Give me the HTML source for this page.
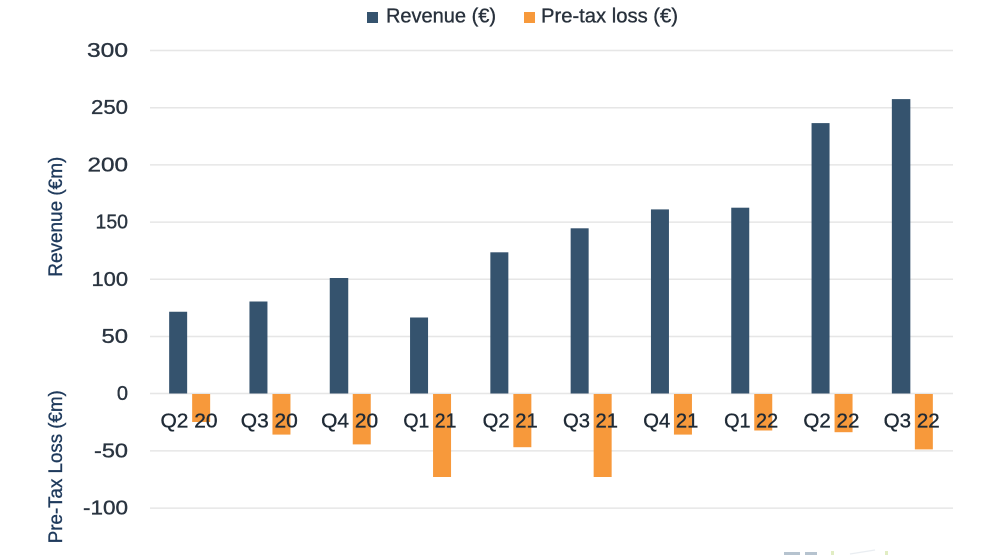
<!DOCTYPE html>
<html>
<head>
<meta charset="utf-8">
<style>
html,body{margin:0;padding:0;background:#fff;}
svg{display:block;}
text{font-family:"Liberation Sans",sans-serif;}
</style>
</head>
<body>
<svg width="1000" height="555" viewBox="0 0 1000 555" xmlns="http://www.w3.org/2000/svg">
  <rect width="1000" height="555" fill="#ffffff"/>
  <!-- legend -->
  <rect x="367" y="12" width="11" height="11" fill="#35536e"/>
  <text x="386" y="22.5" font-size="20" fill="#28313c" stroke="#28313c" stroke-width="0.35" textLength="110" lengthAdjust="spacingAndGlyphs">Revenue (€)</text>
  <rect x="524" y="12" width="11" height="11" fill="#f7993b"/>
  <text x="541" y="22.5" font-size="20" fill="#28313c" stroke="#28313c" stroke-width="0.35" textLength="137" lengthAdjust="spacingAndGlyphs">Pre-tax loss (€)</text>

  <!-- gridlines -->
  <g stroke="#e6e6e6" stroke-width="1.5">
    <line x1="150" x2="953" y1="50.5" y2="50.5"/>
    <line x1="150" x2="953" y1="107.7" y2="107.7"/>
    <line x1="150" x2="953" y1="164.9" y2="164.9"/>
    <line x1="150" x2="953" y1="222.1" y2="222.1"/>
    <line x1="150" x2="953" y1="279.3" y2="279.3"/>
    <line x1="150" x2="953" y1="336.5" y2="336.5"/>
    <line x1="150" x2="953" y1="393.5" y2="393.5"/>
    <line x1="150" x2="953" y1="450.9" y2="450.9"/>
    <line x1="150" x2="953" y1="508.1" y2="508.1"/>
  </g>

  <!-- y tick labels -->
  <g font-size="20" fill="#2a3440" stroke="#2a3440" stroke-width="0.35" text-anchor="end">
    <text x="128" y="57" textLength="41" lengthAdjust="spacingAndGlyphs">300</text>
    <text x="128" y="114.2" textLength="37" lengthAdjust="spacingAndGlyphs">250</text>
    <text x="128" y="171.4" textLength="40.5" lengthAdjust="spacingAndGlyphs">200</text>
    <text x="128" y="228.6" textLength="32.5" lengthAdjust="spacingAndGlyphs">150</text>
    <text x="128" y="285.8" textLength="36.5" lengthAdjust="spacingAndGlyphs">100</text>
    <text x="128" y="343" textLength="26.5" lengthAdjust="spacingAndGlyphs">50</text>
    <text x="128" y="400">0</text>
    <text x="128" y="457.4" textLength="34" lengthAdjust="spacingAndGlyphs">-50</text>
    <text x="128" y="514.6" textLength="45" lengthAdjust="spacingAndGlyphs">-100</text>
  </g>

  <!-- axis titles -->
  <text transform="translate(62,216.7) rotate(-90)" font-size="19" fill="#1f3a5c" stroke="#1f3a5c" stroke-width="0.35" text-anchor="middle" textLength="120" lengthAdjust="spacingAndGlyphs">Revenue (€m)</text>
  <text transform="translate(62,466.7) rotate(-90)" font-size="19" fill="#1f3a5c" stroke="#1f3a5c" stroke-width="0.35" text-anchor="middle" textLength="153" lengthAdjust="spacingAndGlyphs">Pre-Tax Loss (€m)</text>

  <!-- revenue bars -->
  <g fill="#35536e">
    <rect x="169.15" y="311.75" width="18" height="81.75"/>
    <rect x="249.45" y="301.5" width="18" height="92.0"/>
    <rect x="329.75" y="278.0" width="18.5" height="115.5"/>
    <rect x="410.05" y="317.5" width="18" height="76.0"/>
    <rect x="490.35" y="252.3" width="18" height="141.2"/>
    <rect x="570.65" y="228.3" width="18" height="165.2"/>
    <rect x="650.95" y="209.4" width="18" height="184.1"/>
    <rect x="731.25" y="207.7" width="18" height="185.8"/>
    <rect x="811.55" y="123.1" width="18" height="270.4"/>
    <rect x="891.85" y="99.1" width="18.5" height="294.4"/>
  </g>

  <!-- loss bars -->
  <g fill="#f7993b">
    <rect x="192.15" y="394" width="18" height="28"/>
    <rect x="272.45" y="394" width="18" height="40.6"/>
    <rect x="352.75" y="394" width="18" height="50.4"/>
    <rect x="433.05" y="394" width="18" height="83.0"/>
    <rect x="513.35" y="394" width="18" height="53.2"/>
    <rect x="593.65" y="394" width="18" height="83.0"/>
    <rect x="673.95" y="394" width="18" height="40.6"/>
    <rect x="754.25" y="394" width="18" height="36.5"/>
    <rect x="834.55" y="394" width="18" height="38.2"/>
    <rect x="914.85" y="394" width="18" height="55.4"/>
  </g>

  <!-- category labels -->
  <g font-size="20" fill="#1f2a36" stroke="#1f2a36" stroke-width="0.35" text-anchor="middle">
    <text x="189" y="427.5" textLength="57" lengthAdjust="spacingAndGlyphs">Q2 20</text>
    <text x="269.3" y="427.5" textLength="57" lengthAdjust="spacingAndGlyphs">Q3 20</text>
    <text x="349.6" y="427.5" textLength="57" lengthAdjust="spacingAndGlyphs">Q4 20</text>
    <text x="429.9" y="427.5" textLength="53" lengthAdjust="spacingAndGlyphs">Q1 21</text>
    <text x="510.2" y="427.5" textLength="55" lengthAdjust="spacingAndGlyphs">Q2 21</text>
    <text x="590.5" y="427.5" textLength="55" lengthAdjust="spacingAndGlyphs">Q3 21</text>
    <text x="670.8" y="427.5" textLength="55" lengthAdjust="spacingAndGlyphs">Q4 21</text>
    <text x="751.1" y="427.5" textLength="54" lengthAdjust="spacingAndGlyphs">Q1 22</text>
    <text x="831.4" y="427.5" textLength="56" lengthAdjust="spacingAndGlyphs">Q2 22</text>
    <text x="911.7" y="427.5" textLength="56" lengthAdjust="spacingAndGlyphs">Q3 22</text>
  </g>

  <!-- faint partial logo at bottom -->
  <g opacity="0.4">
    <rect x="784" y="552" width="16" height="3" fill="#4a6a8a"/>
    <rect x="805" y="552" width="12" height="3" fill="#4a6a8a"/>
    <rect x="831" y="551" width="3" height="4" fill="#b5d36a"/>
    <line x1="850" y1="554" x2="875" y2="550" stroke="#c9d3dd" stroke-width="1.2"/>
    <rect x="885" y="551" width="3" height="4" fill="#b5d36a"/>
  </g>
</svg>
</body>
</html>
